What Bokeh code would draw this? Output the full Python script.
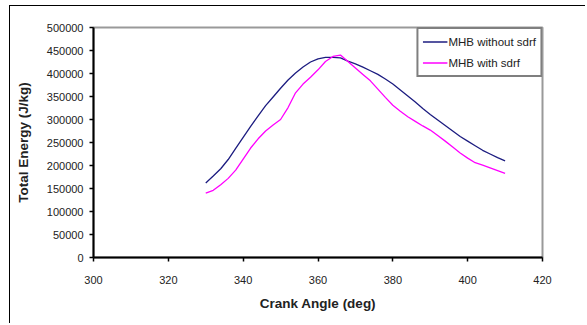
from bokeh.plotting import figure
from bokeh.models import Range1d, SingleIntervalTicker, NumeralTickFormatter, Legend, LegendItem
from bokeh.embed import file_html
from bokeh.resources import INLINE

angle = [330, 332, 334, 336, 338, 340, 342, 344, 346, 348, 350, 352, 354, 356, 358, 360,
         362, 364, 366, 368, 370, 372, 374, 376, 378, 380, 382, 384, 386, 388, 390, 392,
         394, 396, 398, 400, 402, 404, 406, 408, 410]
without_sdrf = [162000, 177000, 193000, 213000, 237000, 261000, 285000, 308000, 330000, 349000,
                368000, 386000, 401000, 414000, 425000, 432000, 435000, 435000, 434000, 427000,
                421000, 414000, 406000, 398000, 388000, 377000, 364000, 351000, 338000, 324000,
                311000, 299000, 287000, 275000, 263000, 253000, 243000, 233000, 225000, 217000,
                210000]
with_sdrf = [140000, 146000, 158000, 172000, 190000, 214000, 238000, 258000, 275000, 288000,
             300000, 326000, 358000, 377000, 392000, 408000, 426000, 437000, 440000, 426000,
             412000, 398000, 384000, 366000, 348000, 331000, 318000, 306000, 296000, 286000,
             277000, 265000, 253000, 240000, 227000, 216000, 206000, 201000, 195000, 189000,
             183000]
labels = ["MHB without sdrf", "MHB with sdrf"]

FONT = "Liberation Sans"

p = figure(width=576, height=318, output_backend="svg", toolbar_location=None,
           x_range=Range1d(300, 420), y_range=Range1d(0, 500000),
           min_border_left=83, min_border_top=21, min_border_right=44, min_border_bottom=67)
p.styles = {"margin-left": "9px", "margin-top": "5px",
            "border-left": "1.5px solid black", "border-top": "1.5px solid black"}
p.background_fill_color = "white"
p.border_fill_color = "white"
p.outline_line_color = "#999999"
p.outline_line_width = 2
p.xgrid.visible = False
p.ygrid.visible = False

p.xaxis.ticker = SingleIntervalTicker(interval=20)
p.yaxis.ticker = SingleIntervalTicker(interval=50000)
p.yaxis.formatter = NumeralTickFormatter(format="0")
for ax in (p.xaxis[0], p.yaxis[0]):
    ax.axis_line_color = "black"
    ax.axis_line_width = 2
    ax.major_tick_line_color = "black"
    ax.major_tick_line_width = 1.5
    ax.major_tick_out = 4
    ax.major_tick_in = 0
    ax.minor_tick_out = 0
    ax.minor_tick_in = 0
    ax.major_label_text_font = FONT
    ax.major_label_text_font_size = "11px"
    ax.major_label_text_color = "#222222"
    ax.axis_label_text_font = FONT
    ax.axis_label_text_font_size = "13.5px"
    ax.axis_label_text_font_style = "bold"
    ax.axis_label_text_color = "#222222"
p.xaxis.axis_label = "Crank Angle (deg)"
p.yaxis.axis_label = "Total Energy (J/kg)"
p.xaxis.major_label_standoff = 14
p.xaxis.axis_label_standoff = 9
p.yaxis.major_label_standoff = 6
p.yaxis.axis_label_standoff = 13

r1 = p.line(angle, without_sdrf, line_color="#1c1c80", line_width=1.3)
r2 = p.line(angle, with_sdrf, line_color="#ff00ff", line_width=1.3)

legend = Legend(items=[LegendItem(label=labels[0], renderers=[r1]),
                       LegendItem(label=labels[1], renderers=[r2])],
                location="top_right", margin=0, padding=4, spacing=4,
                glyph_width=25, glyph_height=17, label_height=17, label_standoff=1,
                label_text_font=FONT, label_text_font_size="11.5px",
                label_text_color="#222222",
                border_line_color="black", border_line_width=2,
                background_fill_color="white", background_fill_alpha=1)
p.add_layout(legend)

open("out.html", "w").write(file_html(p, INLINE))
